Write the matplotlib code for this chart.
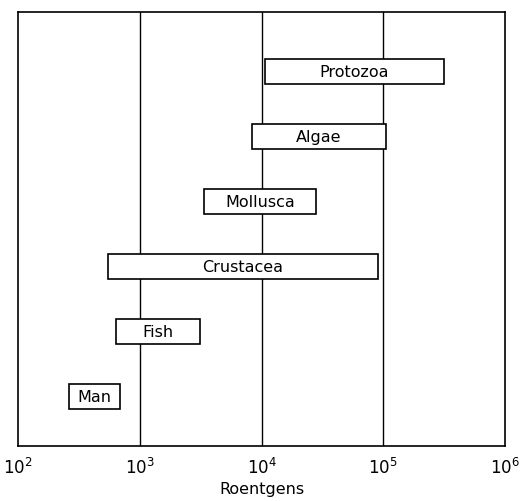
import matplotlib
matplotlib.use("Agg")
import matplotlib.pyplot as plt
import numpy as np

# radiation dose ranges (roentgens) per group, bottom to top
groups = ["Man", "Fish", "Crustacea", "Mollusca", "Algae", "Protozoa"]
low = [260, 640, 550, 3400, 8400, 10700]
high = [690, 3100, 90000, 28000, 105000, 316000]

decades = [1e3, 1e4, 1e5]
xticks = [1e2, 1e3, 1e4, 1e5, 1e6]

plt.rcParams['font.family'] = ['DejaVu Sans']

fig = plt.figure(figsize=(5.31, 5.02), dpi=100)
ax = fig.add_axes([0.034, 0.1096, 0.917, 0.8645])

for d in decades:
    ax.axvline(d, color="black", lw=1.0, zorder=1)

ypos = np.arange(len(groups))
bh = 0.385
for y, lo, hi, name in zip(ypos, low, high, groups):
    ax.barh(y, hi - lo, left=lo, height=bh, color="white",
            edgecolor="black", lw=1.2, zorder=2)
    xc = np.sqrt(lo * hi)
    ax.text(xc, y, name, ha="center", va="center", fontsize=11.5, zorder=3)

ax.set_xscale("log")
ax.set_xlim(1e2, 1e6)
ax.set_ylim(-0.77, len(groups) - 1 + 0.92)
ax.set_yticks([])
ax.set_xticks(xticks)
ax.set_xticklabels([r"10$^{%d}$" % int(np.log10(t)) for t in xticks], fontsize=12)
ax.minorticks_off()
ax.tick_params(axis="x", length=0, pad=8)
ax.set_xlabel("Roentgens", fontsize=11.5, labelpad=3)
for s in ax.spines.values():
    s.set_linewidth(1.2)

fig.savefig("out.png", dpi=100)
